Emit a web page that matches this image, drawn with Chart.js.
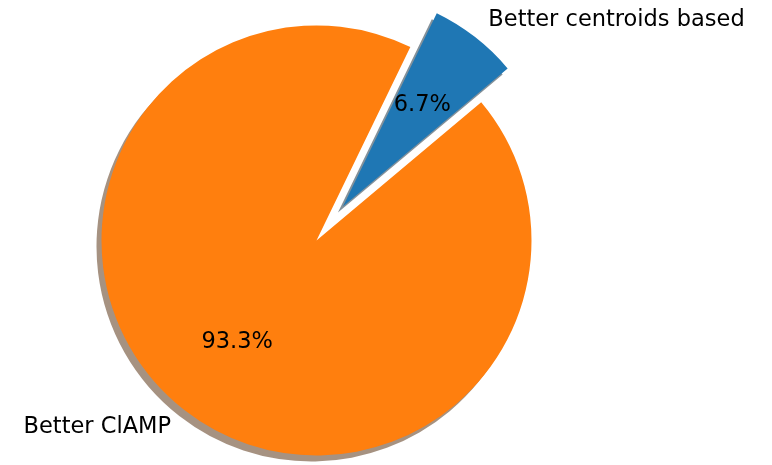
<!DOCTYPE html>
<html>
<head>
<meta charset="utf-8">
<script src="https://cdn.jsdelivr.net/npm/chart.js@4.4.1/dist/chart.umd.min.js"></script>
<style>
  html, body { margin: 0; padding: 0; background: #ffffff; }
  canvas { display: block; }
</style>
</head>
<body>
<canvas id="pie" width="772" height="465"></canvas>
<script>
// Slice data, in drawing order
const labels = ['Better centroids based', 'Better ClAMP'];
const shares = [6.7, 93.3];
const explode = [0.2, 0];
const sliceColors = ['#1f77b4', '#ff7f0e'];

// First slice spans counter-clockwise starting at this angle (degrees from 3 o'clock)
const startAngle = 40;
const total = shares.reduce((a, b) => a + b, 0);
// Chart.js runs clockwise from 12 o'clock, so the first slice must start where it ends
const rotation = 90 - startAngle - 360 * shares[0] / total;

const FONT_SIZE = 22.5;
const FONT = FONT_SIZE + 'px "DejaVu Sans", "Liberation Sans", sans-serif';
const SHADOW_DX = -5, SHADOW_DY = 6;

function shadowOf(hex) {
  const n = parseInt(hex.slice(1), 16);
  const r = (n >> 16) & 255, g = (n >> 8) & 255, b = n & 255;
  return `rgba(${Math.round(r * 0.3)},${Math.round(g * 0.3)},${Math.round(b * 0.3)},0.5)`;
}

// Push exploded slices out along their mid angle
const explodePlugin = {
  id: 'explodeSlices',
  afterDatasetsUpdate(chart) {
    const meta = chart.getDatasetMeta(0);
    meta.data.forEach((arc, i) => {
      const mid = (arc.startAngle + arc.endAngle) / 2;
      const d = (explode[i] || 0) * arc.outerRadius;
      arc.x += Math.cos(mid) * d;
      arc.y += Math.sin(mid) * d;
    });
  }
};

// Drop shadows under every slice
const shadowPlugin = {
  id: 'sliceShadows',
  beforeDatasetsDraw(chart) {
    const ctx = chart.ctx;
    const meta = chart.getDatasetMeta(0);
    ctx.save();
    ctx.translate(SHADOW_DX, SHADOW_DY);
    meta.data.forEach((arc, i) => {
      const ghost = Object.create(arc);
      ghost.options = Object.assign({}, arc.options, {
        backgroundColor: shadowOf(sliceColors[i]),
        borderWidth: 0
      });
      ghost.draw(ctx);
    });
    ctx.restore();
  }
};

// Outer category labels and inner percentage labels
const labelPlugin = {
  id: 'sliceLabels',
  afterDatasetsDraw(chart) {
    const ctx = chart.ctx;
    const meta = chart.getDatasetMeta(0);
    ctx.save();
    ctx.font = FONT;
    ctx.fillStyle = '#000000';
    ctx.textBaseline = 'alphabetic';
    const lift = 0.276 * FONT_SIZE; // baseline sits below the vertical centre of the line box
    meta.data.forEach((arc, i) => {
      const mid = (arc.startAngle + arc.endAngle) / 2;
      const c = Math.cos(mid), s = Math.sin(mid);
      const r = arc.outerRadius;

      const lx = arc.x + 1.1 * r * c;
      const ly = arc.y + 1.1 * r * s;
      ctx.textAlign = lx > chart.chartArea.left + chart.chartArea.width / 2 ? 'left' : 'right';
      ctx.fillText(labels[i], lx, ly + lift);

      const px = arc.x + 0.6 * r * c;
      const py = arc.y + 0.6 * r * s;
      ctx.textAlign = 'center';
      ctx.fillText((shares[i] / total * 100).toFixed(1) + '%', px, py + lift);
    });
    ctx.restore();
  }
};

new Chart(document.getElementById('pie'), {
  type: 'pie',
  data: {
    labels: labels,
    datasets: [{
      data: shares,
      backgroundColor: sliceColors,
      borderWidth: 0,
      radius: 215
    }]
  },
  options: {
    responsive: false,
    devicePixelRatio: 1,
    animation: false,
    events: [],
    rotation: rotation,
    layout: { padding: { left: 0, right: 139, top: 16, bottom: 0 } },
    plugins: {
      legend: { display: false },
      tooltip: { enabled: false }
    }
  },
  plugins: [explodePlugin, shadowPlugin, labelPlugin]
});
</script>
</body>
</html>
